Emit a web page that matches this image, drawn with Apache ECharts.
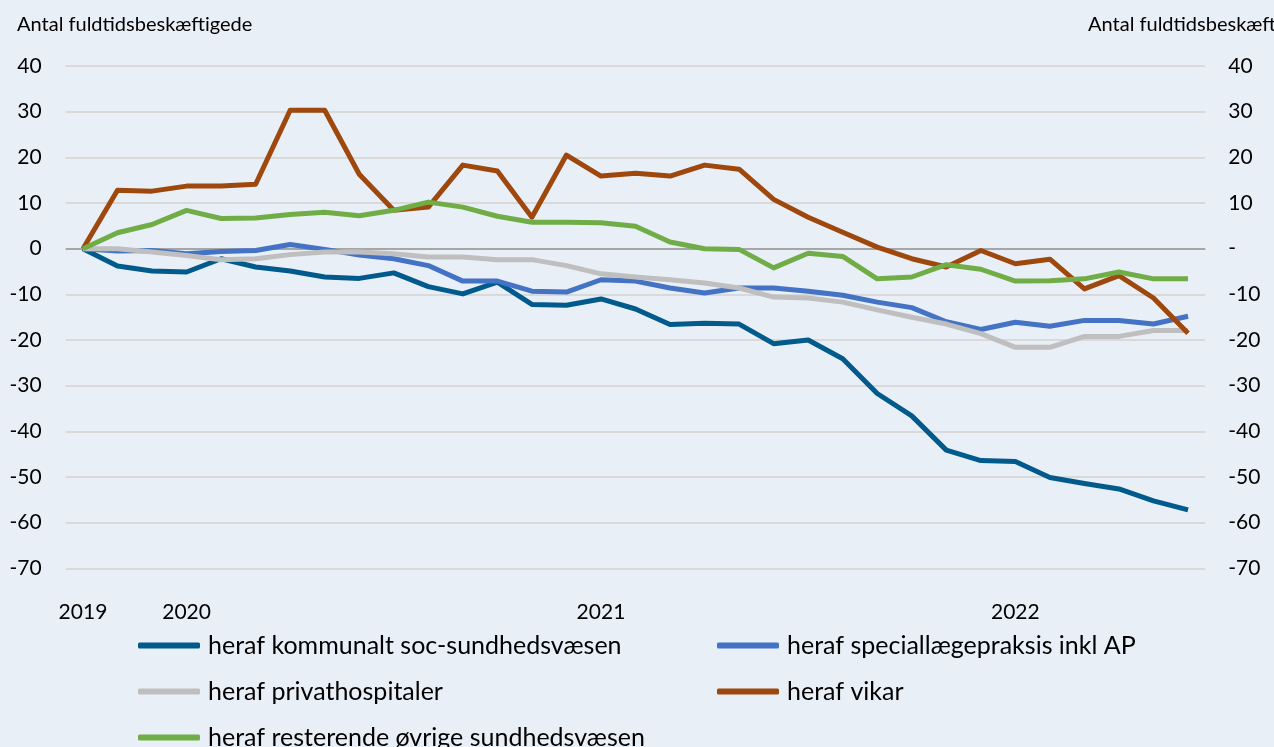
<!DOCTYPE html>
<html>
<head>
<meta charset="utf-8">
<script src="https://cdn.jsdelivr.net/npm/echarts@6/dist/echarts.min.js"></script>
<style>
html,body{margin:0;padding:0;background:#E9EFF7;}
#c{width:1274px;height:747px;}
</style>
</head>
<body>
<div id="c"></div>
<script>
const categories = ["2019-10","2019-11","2019-12","2020-01","2020-02","2020-03","2020-04","2020-05","2020-06","2020-07","2020-08","2020-09","2020-10","2020-11","2020-12","2021-01","2021-02","2021-03","2021-04","2021-05","2021-06","2021-07","2021-08","2021-09","2021-10","2021-11","2021-12","2022-01","2022-02","2022-03","2022-04","2022-05","2022-06"];
const yearLabels = {0:"2019",3:"2020",15:"2021",27:"2022"};
const seriesNames = ["heraf kommunalt soc-sundhedsvæsen","heraf speciallægepraksis inkl AP","heraf privathospitaler","heraf vikar","heraf resterende øvrige sundhedsvæsen"];
const kommunalt = [0,-3.8,-4.9,-5.1,-2.2,-4.0,-4.9,-6.2,-6.5,-5.3,-8.3,-9.9,-7.3,-12.2,-12.4,-11.0,-13.2,-16.6,-16.3,-16.5,-20.8,-20.0,-24.1,-31.7,-36.6,-44.1,-46.4,-46.6,-50.1,-51.4,-52.6,-55.2,-57.2];
const speciallaege = [0,-0.5,-0.4,-1.1,-0.6,-0.4,0.9,-0.15,-1.4,-2.2,-3.7,-7.1,-7.1,-9.3,-9.5,-6.8,-7.1,-8.6,-9.7,-8.6,-8.6,-9.3,-10.2,-11.7,-12.9,-16.0,-17.7,-16.1,-17.0,-15.7,-15.7,-16.5,-14.8];
const privathospitaler = [0,0,-0.7,-1.5,-2.4,-2.2,-1.3,-0.7,-0.7,-1.1,-1.8,-1.8,-2.4,-2.4,-3.7,-5.5,-6.2,-6.8,-7.5,-8.6,-10.6,-10.8,-11.7,-13.4,-15.0,-16.5,-18.6,-21.6,-21.6,-19.2,-19.2,-17.9,-17.9];
const vikar = [0,12.8,12.6,13.7,13.7,14.1,30.3,30.3,16.3,8.4,9.1,18.3,17.0,6.9,20.5,15.9,16.5,15.9,18.3,17.4,10.8,6.9,3.6,0.35,-2.2,-4.0,-0.4,-3.3,-2.3,-8.8,-5.9,-10.8,-18.5];
const resterende = [0,3.5,5.3,8.4,6.6,6.7,7.5,8.0,7.2,8.4,10.2,9.1,7.1,5.8,5.8,5.7,4.9,1.45,0,-0.15,-4.2,-1.0,-1.7,-6.6,-6.2,-3.5,-4.5,-7.1,-7.0,-6.6,-5.1,-6.6,-6.6];
const seriesData = [kommunalt, speciallaege, privathospitaler, vikar, resterende];
const colors = ["#005A8C","#4472C4","#BFBFBF","#9E480E","#70AD47"];
const yTitle = "Antal fuldtidsbeskæftigede";

const FONT = "Lato";
const chart = echarts.init(document.getElementById('c'), null, {renderer:'canvas'});
const gridColors = [];
for (let v = -70; v <= 40; v += 10) gridColors.push(v === 0 ? '#A6A6A6' : '#D9D9D9');

const yAxisBase = {
  type:'value', min:-70, max:40, interval:10,
  axisLine:{show:false}, axisTick:{show:false},
};
const legendBase = {
  orient:'vertical', top:633, height:200, itemGap:21, itemWidth:62, itemHeight:6, icon:'roundRect',
  padding:0,
  textStyle:{fontFamily:FONT, fontSize:25, lineHeight:22, color:'#000', padding:[0,0,0,3]}
};
chart.setOption({
  backgroundColor:'#E9EFF7',
  animation:false,
  color: colors,
  title:[
    {text:yTitle, left:12, top:10, textStyle:{fontFamily:FONT, fontSize:20, fontWeight:'normal', color:'#000'}},
    {text:yTitle, left:1083, top:10, textStyle:{fontFamily:FONT, fontSize:20, fontWeight:'normal', color:'#000'}}
  ],
  grid:{left:65.7, right:68.7, top:66, bottom:178.6, containLabel:false},
  legend:[
    Object.assign({}, legendBase, {data:[seriesNames[0],seriesNames[2],seriesNames[4]], left:138}),
    Object.assign({}, legendBase, {data:[seriesNames[1],seriesNames[3]], left:717})
  ],
  xAxis:{
    type:'category', data:categories, boundaryGap:true,
    axisLine:{show:false}, axisTick:{show:false}, splitLine:{show:false},
    axisLabel:{
      interval:(i)=> yearLabels[i] !== undefined,
      formatter:(v)=> yearLabels[categories.indexOf(v)] || '',
      margin:33, fontFamily:FONT, fontSize:21, color:'#000'
    }
  },
  yAxis:[
    Object.assign({}, yAxisBase, {
      position:'left',
      axisLabel:{margin:24, fontFamily:FONT, fontSize:21, color:'#000'},
      splitLine:{show:true, lineStyle:{color:gridColors, width:2}}
    }),
    Object.assign({}, yAxisBase, {
      position:'right',
      axisLabel:{margin:23, fontFamily:FONT, fontSize:21, color:'#000', formatter:(v)=> v === 0 ? '-' : String(v)},
      splitLine:{show:false}
    })
  ],
  series: seriesNames.map((n, k)=>({
    name:n, type:'line', data:seriesData[k], yAxisIndex:0,
    symbol:'none', lineStyle:{width:5, color:colors[k], join:'round'},
    itemStyle:{color:colors[k]}
  }))
});
</script>
</body>
</html>
